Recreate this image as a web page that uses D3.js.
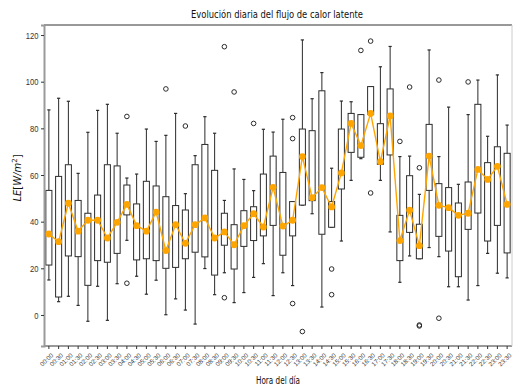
<!DOCTYPE html>
<html>
<head>
<meta charset="utf-8">
<script src="https://cdn.jsdelivr.net/npm/d3@7"></script>
<style>
  html, body { margin: 0; padding: 0; background: #fff; }
  svg { display: block; font-family: "DejaVu Sans", sans-serif; }
</style>
</head>
<body>
<svg id="chart" width="513" height="390"></svg>
<script>
// Half-hour slots of the day
const hours = [
  "00:00","00:30","01:00","01:30","02:00","02:30","03:00","03:30",
  "04:00","04:30","05:00","05:30","06:00","06:30","07:00","07:30",
  "08:00","08:30","09:00","09:30","10:00","10:30","11:00","11:30",
  "12:00","12:30","13:00","13:30","14:00","14:30","15:00","15:30",
  "16:00","16:30","17:00","17:30","18:00","18:30","19:00","19:30",
  "20:00","20:30","21:00","21:30","22:00","22:30","23:00","23:30"
];

// Box-plot statistics per slot (W/m²)
const whiskerLow = [15,5.7,8,4.1,-2.7,12.3,-2.3,13.4,32,16.6,8.9,14.9,0.1,6.9,2.1,-3.9,
  19.9,8.7,18.1,5.3,9.6,16.1,22,8.3,18.1,12.6,47.1,43.4,3.4,37.6,31.7,57.7,
  67,86,57.7,35.6,14,25.3,24.1,28.9,25,12.1,12.1,6.4,12.6,26.4,17.9,15.9];
const q1 = [21.4,7.7,25.3,25,12.7,23.3,22.6,26.4,42.9,23.6,24.1,23.3,20,20.4,24.1,26.9,
  24.9,17.1,29.9,19.7,29.4,31.9,33.9,38.4,25.6,33.9,47.1,49,34.6,37.6,54,69.7,
  67.6,86,64.6,68.6,23.3,35.4,24.1,53.4,33.7,27.4,16.4,36.7,43.7,31.7,38.4,26.6];
const q3 = [53.4,59.4,64.4,49.1,43.6,51.4,64.4,63.9,55.7,47.6,57.3,55.3,50.7,46.9,45,64.4,
  73.1,62,43.6,38.7,44.7,46.4,60.4,68.1,61.1,48.6,79.7,79,96.1,48.6,79.7,86.4,
  85.9,97.9,82,96.9,42.7,59.7,38.9,81.7,56.3,54.6,48,57,90.3,65.3,72.1,69.3];
const whiskerHigh = [87.9,92.9,91.6,60.7,78.3,87.7,90.3,77.9,58.7,60.4,79.7,74.4,77,86.4,52,68.3,
  85,77.9,49.1,62.6,58.1,53.3,79.6,78.4,83.9,48.6,117.9,92.7,103.9,62.9,91.7,91.4,
  85.9,97.9,106.4,115.1,67.9,68.1,51.7,113.6,67.9,89.1,56,85.9,100.7,76.6,102.9,81.4];
const means = [34.7,31.4,47.9,35.9,40.6,40.6,33,39.7,47.4,38.3,35.9,44.1,27.6,38.7,30.7,38.7,
  41.6,33,35.6,30.1,38.3,43.4,37.7,54.7,38.1,40.6,67.9,50.3,54.6,46.3,60.9,82.1,
  72.6,86.4,65.7,85.3,31.9,44.9,29.7,68.1,47,46,42.7,43.6,62.4,58.1,63.7,47.4];
// Outlying observations per slot
const outliers = [[],[],[],[],[],[],[],[],[85.1,13.6],[],[],[],[96.9],[],[81],[],
  [],[],[115,7.4],[95.6],[],[82.1],[],[],[],[84.6,75.6,4.9],[-7.1],[],[],[19.7,8.7],[],[],
  [113.4],[117.4,52.3],[],[],[74.4],[97.7],[63.1,-4.3,-4.7],[],[100.7,-1.4],[],[],[99.9],[],[],[],[]];
const yTicks = [0, 20, 40, 60, 80, 100, 120];

const svg = d3.select("#chart");
const plotLeft = 44, plotRight = 512, plotTop = 25, plotBottom = 346;

const x = d3.scaleBand().domain(hours).range([plotLeft, plotRight]).padding(0);
const y = d3.scaleLinear().domain([-13.3, 124.3]).range([plotBottom, plotTop]);
const boxW = x.bandwidth() * 0.62;
const cx = i => x(hours[i]) + x.bandwidth() / 2;

const ink = "#2b2b2b";

// Box plots
const boxes = svg.append("g").selectAll("g").data(hours).join("g");
boxes.append("line")
  .attr("x1", (d, i) => cx(i)).attr("x2", (d, i) => cx(i))
  .attr("y1", (d, i) => y(q3[i])).attr("y2", (d, i) => y(whiskerHigh[i]))
  .attr("stroke", ink).attr("stroke-width", 1);
boxes.append("line")
  .attr("x1", (d, i) => cx(i)).attr("x2", (d, i) => cx(i))
  .attr("y1", (d, i) => y(q1[i])).attr("y2", (d, i) => y(whiskerLow[i]))
  .attr("stroke", ink).attr("stroke-width", 1);
boxes.append("line")
  .attr("x1", (d, i) => cx(i) - 1.6).attr("x2", (d, i) => cx(i) + 1.6)
  .attr("y1", (d, i) => y(whiskerHigh[i])).attr("y2", (d, i) => y(whiskerHigh[i]))
  .attr("stroke", ink).attr("stroke-width", 1.2);
boxes.append("line")
  .attr("x1", (d, i) => cx(i) - 1.6).attr("x2", (d, i) => cx(i) + 1.6)
  .attr("y1", (d, i) => y(whiskerLow[i])).attr("y2", (d, i) => y(whiskerLow[i]))
  .attr("stroke", ink).attr("stroke-width", 1.2);
boxes.append("rect")
  .attr("x", (d, i) => cx(i) - boxW / 2).attr("width", boxW)
  .attr("y", (d, i) => y(q3[i]))
  .attr("height", (d, i) => Math.max(0.5, y(q1[i]) - y(q3[i])))
  .attr("fill", "#fff").attr("stroke", ink).attr("stroke-width", 1);
boxes.each(function (d, i) {
  d3.select(this).selectAll("circle").data(outliers[i]).join("circle")
    .attr("cx", cx(i)).attr("cy", v => y(v)).attr("r", 2.3)
    .attr("fill", "none").attr("stroke", ink).attr("stroke-width", 1);
});

// Mean line with markers
const line = d3.line().x((d, i) => cx(i)).y(d => y(d));
svg.append("path").datum(means).attr("d", line)
  .attr("fill", "none").attr("stroke", "#ffa500").attr("stroke-width", 1.4);
svg.append("g").selectAll("circle").data(means).join("circle")
  .attr("cx", (d, i) => cx(i)).attr("cy", d => y(d)).attr("r", 3.4)
  .attr("fill", "#ffa500");

// Frame
svg.append("line").attr("x1", plotLeft).attr("x2", plotRight).attr("y1", plotTop).attr("y2", plotTop)
  .attr("stroke", "#333").attr("stroke-width", 1);
svg.append("line").attr("x1", plotLeft).attr("x2", plotRight).attr("y1", plotBottom).attr("y2", plotBottom)
  .attr("stroke", "#333").attr("stroke-width", 1);
svg.append("line").attr("x1", plotRight).attr("x2", plotRight).attr("y1", plotTop).attr("y2", plotBottom)
  .attr("stroke", "#ccc").attr("stroke-width", 1);

// Y axis
const yAxis = svg.append("g").attr("transform", `translate(${plotLeft},0)`)
  .call(d3.axisLeft(y).tickValues(yTicks).tickSize(3).tickPadding(3));
yAxis.select(".domain").attr("stroke", "#9a9a9a").attr("stroke-width", 2);
yAxis.selectAll(".tick line").attr("stroke", "#333");
yAxis.selectAll("text").attr("font-size", 9.5).attr("fill", "#333")
  .attr("x", -7).attr("transform", "scale(0.8,1)");

// X axis
const xAxis = svg.append("g").attr("transform", `translate(0,${plotBottom})`)
  .call(d3.axisBottom(x).tickSize(3).tickPadding(2));
xAxis.select(".domain").remove();
xAxis.selectAll(".tick line").attr("stroke", "#333");
xAxis.selectAll("text")
  .attr("font-size", 6.3).attr("fill", "#333")
  .attr("text-anchor", "end")
  .attr("dy", "0.35em").attr("y", 8).attr("x", -3.5)
  .attr("transform", "rotate(-45)");

// Title
svg.append("text").attr("x", 277).attr("y", 17.5).attr("text-anchor", "middle")
  .attr("font-size", 11).attr("fill", "#111")
  .attr("textLength", 172).attr("lengthAdjust", "spacingAndGlyphs")
  .text("Evolución diaria del flujo de calor latente");

// Axis labels
svg.append("text").attr("x", 278).attr("y", 384).attr("text-anchor", "middle")
  .attr("font-size", 10).attr("fill", "#111")
  .attr("textLength", 44).attr("lengthAdjust", "spacingAndGlyphs")
  .text("Hora del día");

const yl = svg.append("text").attr("transform", "translate(21,178) rotate(-90)")
  .attr("text-anchor", "middle").attr("font-size", 10).attr("fill", "#111");
yl.append("tspan").attr("font-style", "italic").text("LE");
yl.append("tspan").text("[");
yl.append("tspan").attr("font-style", "italic").text("W/m");
yl.append("tspan").attr("font-size", 7).attr("dy", -4).text("2");
yl.append("tspan").attr("dy", 4).text("]");
</script>
</body>
</html>
